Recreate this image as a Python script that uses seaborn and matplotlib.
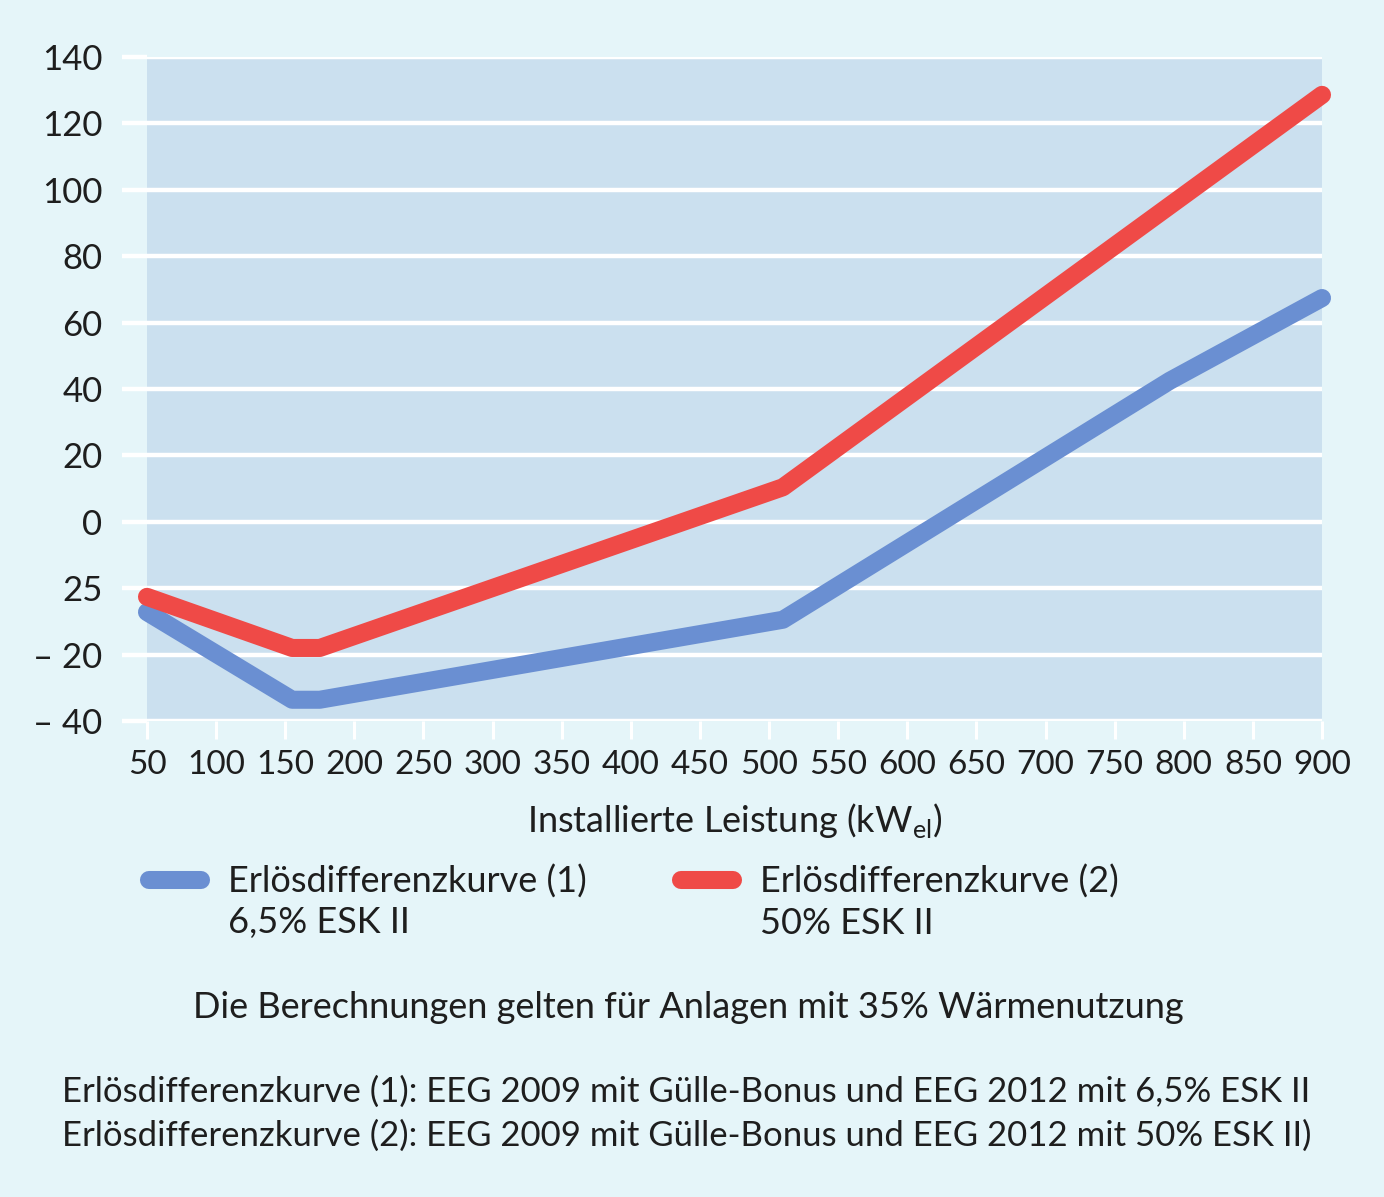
import matplotlib
matplotlib.use("Agg")
import matplotlib.pyplot as plt
import seaborn as sns
import pandas as pd

# ---- data (y values in grid units of the printed chart) ----
x_kurve1 = [50, 155, 175, 510, 790, 900]
y_kurve1 = [-27.2, -53.6, -53.6, -29.5, 42.5, 67.4]
x_kurve2 = [50, 155, 175, 510, 900]
y_kurve2 = [-22.6, -38.0, -38.0, 10.4, 128.6]

series_names = ["Erlösdifferenzkurve (1)", "Erlösdifferenzkurve (2)"]
series_sub = ["6,5% ESK II", "50% ESK II"]
series_colors = ["#6a8fd2", "#ef4a47"]

y_tick_pos = [-60, -40, -20, 0, 20, 40, 60, 80, 100, 120, 140]
y_tick_labels = ["– 40", "– 20", "25", "0", "20", "40", "60", "80", "100", "120", "140"]
x_ticks = list(range(50, 901, 50))

x_label = r"Installierte Leistung (kW$_{\mathregular{el}}$)"
note_main = "Die Berechnungen gelten für Anlagen mit 35% Wärmenutzung"
note_lines = [
    "Erlösdifferenzkurve (1): EEG 2009 mit Gülle-Bonus und EEG 2012 mit 6,5% ESK II",
    "Erlösdifferenzkurve (2): EEG 2009 mit Gülle-Bonus und EEG 2012 mit 50% ESK II)",
]

df = pd.DataFrame({
    "x": x_kurve1 + x_kurve2,
    "y": y_kurve1 + y_kurve2,
    "serie": [series_names[0]] * len(x_kurve1) + [series_names[1]] * len(x_kurve2),
})

PAGE = "#e5f5f9"
PLOT = "#cbe0ef"
TEXT = "#1e1e1e"

sns.set_theme(style="darkgrid")
plt.rcParams["font.family"] = ["Lato", "DejaVu Sans"]
plt.rcParams["mathtext.fontset"] = "custom"
plt.rcParams["mathtext.rm"] = "Lato"

W, H = 1384, 1197
fig = plt.figure(figsize=(W / 100, H / 100), dpi=100, facecolor=PAGE)
ax = fig.add_axes([147 / W, 1 - 721 / H, (1322 - 147) / W, (721 - 57) / H])
ax.set_facecolor(PLOT)

sns.lineplot(data=df, x="x", y="y", hue="serie", palette=series_colors,
             hue_order=series_names, sort=False, errorbar=None, legend=False,
             linewidth=13, solid_capstyle="round", solid_joinstyle="round",
             ax=ax, zorder=3, clip_on=False)

ax.set_xlim(50, 900)
ax.set_ylim(-60, 140)
ax.set_yticks(y_tick_pos)
ax.set_yticklabels(y_tick_labels)
ax.set_xticks(x_ticks)
ax.set_xticklabels([str(v) for v in x_ticks])
ax.grid(axis="x", visible=False)
ax.grid(axis="y", color="white", linewidth=3.2)
for s in ax.spines.values():
    s.set_visible(False)
ax.tick_params(axis="y", length=18, width=3.2, color="white", pad=14,
               labelsize=25, labelcolor=TEXT, left=True)
ax.tick_params(axis="x", length=13, width=2.2, color="white", pad=8,
               labelsize=24, labelcolor=TEXT, bottom=True)
ax.set_xlabel(x_label, fontsize=26, color=TEXT, labelpad=15)
ax.set_ylabel("")

# legend (first label line via legend, second line as text)
handles = ax.get_lines()[:2]
anchors = [149, 681]
for h, name, sub, ax0 in zip(handles, series_names, series_sub, anchors):
    fig.legend([h], [name], loc="center left",
               bbox_to_anchor=(ax0 / W, 1 - 882 / H), frameon=False,
               fontsize=26, handlelength=1.44, handletextpad=0.75,
               borderpad=0, borderaxespad=0, labelcolor=TEXT)
    fig.text((ax0 + 79) / W, 1 - 923 / H, sub, fontsize=26, color=TEXT,
             ha="left", va="center")

fig.text(688 / W, 1 - 1007 / H, note_main, fontsize=26, color=TEXT,
         ha="center", va="center")
fig.text(62 / W, 1 - 1092 / H, note_lines[0], fontsize=25, color=TEXT,
         ha="left", va="center")
fig.text(62 / W, 1 - 1136 / H, note_lines[1], fontsize=25, color=TEXT,
         ha="left", va="center")

fig.savefig("out.png", dpi=100, facecolor=PAGE)
